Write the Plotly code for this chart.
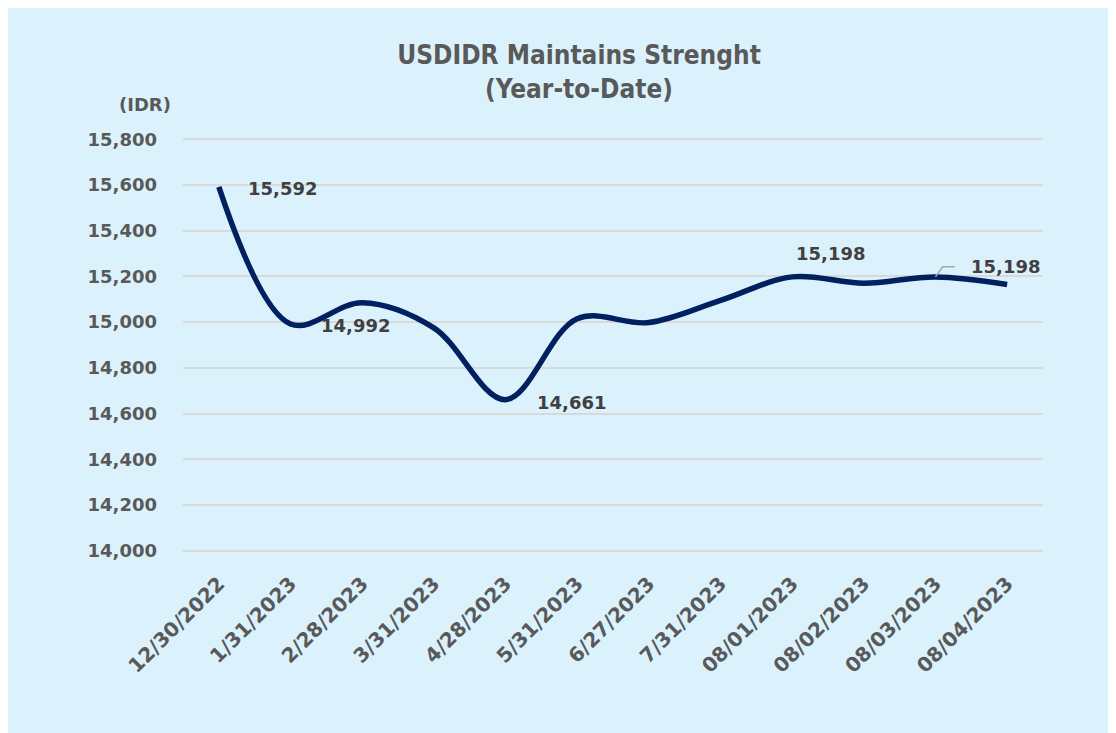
import plotly.graph_objects as go

# data
DATES = ["12/30/2022", "1/31/2023", "2/28/2023", "3/31/2023", "4/28/2023", "5/31/2023",
         "6/27/2023", "7/31/2023", "08/01/2023", "08/02/2023", "08/03/2023", "08/04/2023"]
USDIDR = [15592, 14992, 15085, 14975, 14661, 15015, 14998, 15095, 15198, 15170, 15198, 15165]
Y_TICKS = [14000, 14200, 14400, 14600, 14800, 15000, 15200, 15400, 15600, 15800]

BG_COLOR = "#DBF2FC"
LINE_COLOR = "#002060"
GRID_COLOR = "#D9D9D9"
TEXT_COLOR = "#595959"
LABEL_COLOR = "#404040"
FONT = "DejaVu Sans"

# page has an 8px body margin, so the figure is a bit smaller than the window
W, H = 1108, 725
Y_RANGE = [13990, 15810]
PX_PER_UNIT = 412 / 1800
ML, MR = 175, 73
MT = 131 - (Y_RANGE[1] - 15800) * PX_PER_UNIT
PH = (Y_RANGE[1] - Y_RANGE[0]) * PX_PER_UNIT
MB = H - MT - PH
PW = W - ML - MR


def px_x(p):
    return (p - ML) / PW


def px_y(p):
    return (H - MB - p) / PH


fig = go.Figure()
fig.add_trace(go.Scatter(
    x=list(range(len(DATES))), y=USDIDR, mode="lines",
    line=dict(color=LINE_COLOR, width=5.5, shape="spline", smoothing=1.0),
    hoverinfo="skip",
))

# data labels: (index, x shift px, y shift px)
label_pos = [(0, 64, -2), (1, 65, -2), (4, 66, -3), (8, 38, 23), (10, 70, 10)]
for i, dx, dy in label_pos:
    fig.add_annotation(x=i, y=USDIDR[i], xref="x", yref="y", text=f"<b>{USDIDR[i]:,}</b>",
                       showarrow=False, xshift=dx, yshift=dy,
                       font=dict(family=FONT, size=18, color=LABEL_COLOR))

# leader line for the last 15,198 label
fig.add_shape(type="path", xref="x", yref="y",
              path=f"M 10 {USDIDR[10]} L 10.1 {USDIDR[10] + 44} L 10.27 {USDIDR[10] + 44}",
              line=dict(color="#A6A6A6", width=1.5))

fig.add_annotation(x=px_x(137), y=px_y(96), xref="paper", yref="paper", text="<b>(IDR)</b>",
                   xanchor="center", yanchor="middle",
                   showarrow=False, font=dict(family=FONT, size=18, color=TEXT_COLOR))

fig.update_layout(
    width=W, height=H,
    margin=dict(l=ML, r=MR, t=MT, b=MB, autoexpand=False),
    paper_bgcolor=BG_COLOR,
    plot_bgcolor=BG_COLOR,
    showlegend=False,
    title=dict(text="<b>USDIDR Maintains Strenght<br>(Year-to-Date)</b>",
               x=px_x(571), xref="paper", xanchor="center",
               y=1 - 56 / H, yanchor="middle",
               font=dict(family="DejaVu Sans Condensed", size=26, color=TEXT_COLOR)),
    font=dict(family=FONT, color=TEXT_COLOR),
)
fig.update_xaxes(
    range=[-0.5, len(DATES) - 0.5],
    tickvals=list(range(len(DATES))), ticktext=[f"<b>{d}</b>" for d in DATES],
    tickangle=-45, tickfont=dict(family=FONT, size=20, color=TEXT_COLOR),
    showgrid=False, zeroline=False, showline=False, ticks="", ticklabelstandoff=14,
)
fig.update_yaxes(
    range=Y_RANGE, tickvals=Y_TICKS,
    ticktext=[f"<b>{v:,}</b>" for v in Y_TICKS],
    tickfont=dict(family=FONT, size=18, color=TEXT_COLOR),
    showgrid=True, gridcolor=GRID_COLOR, gridwidth=2, zeroline=False,
    ticks="", ticklabelstandoff=25,
)

fig.write_html("out.html")
